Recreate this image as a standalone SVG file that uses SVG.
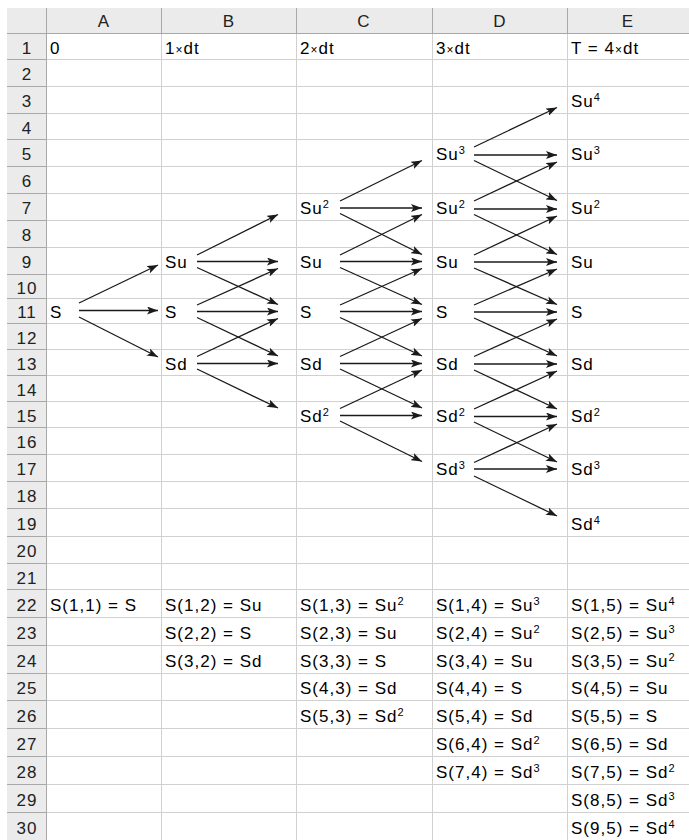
<svg xmlns="http://www.w3.org/2000/svg" width="689" height="840" viewBox="0 0 689 840">
<style>
text{font-family:"Liberation Sans",Arial,sans-serif;font-size:17px;fill:#000;letter-spacing:1px}
.hd{fill:#222;text-anchor:middle}
.sup{font-size:11px}
.x{font-size:12px}
.grid line{stroke:#d0d0d0;stroke-width:1}
.hdl line{stroke:#a8a8a8;stroke-width:1}
.conn line{stroke:#1a1a1a;stroke-width:1.3;marker-end:url(#ah)}
</style>
<defs>
<marker id="ah" markerUnits="userSpaceOnUse" markerWidth="12" markerHeight="8" refX="11" refY="4" orient="auto">
<path d="M0,0 L11,4 L0,8 L2.5,4 z" fill="#1a1a1a"/>
</marker>
</defs>
<rect x="0" y="0" width="689" height="840" fill="#fff"/>
<!-- header backgrounds -->
<rect x="7" y="8" width="682" height="25" fill="#ebebeb"/>
<rect x="7" y="8" width="39" height="832" fill="#ebebeb"/>
<!-- cell grid -->
<g class="grid">
<line x1="46" y1="59.5" x2="689" y2="59.5"/><line x1="46" y1="86.5" x2="689" y2="86.5"/><line x1="46" y1="113.5" x2="689" y2="113.5"/><line x1="46" y1="139.5" x2="689" y2="139.5"/><line x1="46" y1="166.5" x2="689" y2="166.5"/><line x1="46" y1="193.5" x2="689" y2="193.5"/><line x1="46" y1="220.5" x2="689" y2="220.5"/><line x1="46" y1="247.5" x2="689" y2="247.5"/><line x1="46" y1="274.5" x2="689" y2="274.5"/><line x1="46" y1="298.5" x2="689" y2="298.5"/><line x1="46" y1="323.5" x2="689" y2="323.5"/><line x1="46" y1="349.5" x2="689" y2="349.5"/><line x1="46" y1="375.5" x2="689" y2="375.5"/><line x1="46" y1="401.5" x2="689" y2="401.5"/><line x1="46" y1="427.5" x2="689" y2="427.5"/><line x1="46" y1="454.5" x2="689" y2="454.5"/><line x1="46" y1="481.5" x2="689" y2="481.5"/><line x1="46" y1="508.5" x2="689" y2="508.5"/><line x1="46" y1="536.5" x2="689" y2="536.5"/><line x1="46" y1="563.5" x2="689" y2="563.5"/><line x1="46" y1="589.5" x2="689" y2="589.5"/><line x1="46" y1="617.5" x2="689" y2="617.5"/><line x1="46" y1="645.5" x2="689" y2="645.5"/><line x1="46" y1="673.5" x2="689" y2="673.5"/><line x1="46" y1="700.5" x2="689" y2="700.5"/><line x1="46" y1="728.5" x2="689" y2="728.5"/><line x1="46" y1="756.5" x2="689" y2="756.5"/><line x1="46" y1="784.5" x2="689" y2="784.5"/><line x1="46" y1="812.5" x2="689" y2="812.5"/>
<line x1="161.5" y1="33" x2="161.5" y2="840"/><line x1="296.5" y1="33" x2="296.5" y2="840"/><line x1="432.5" y1="33" x2="432.5" y2="840"/><line x1="567.5" y1="33" x2="567.5" y2="840"/>
</g>
<!-- header lines -->
<g class="hdl">
<line x1="7" y1="33.5" x2="689" y2="33.5"/>
<line x1="46.5" y1="8" x2="46.5" y2="840"/>
<line x1="161.5" y1="8" x2="161.5" y2="33"/><line x1="296.5" y1="8" x2="296.5" y2="33"/><line x1="432.5" y1="8" x2="432.5" y2="33"/><line x1="567.5" y1="8" x2="567.5" y2="33"/>
<line x1="7" y1="59.5" x2="46" y2="59.5"/><line x1="7" y1="86.5" x2="46" y2="86.5"/><line x1="7" y1="113.5" x2="46" y2="113.5"/><line x1="7" y1="139.5" x2="46" y2="139.5"/><line x1="7" y1="166.5" x2="46" y2="166.5"/><line x1="7" y1="193.5" x2="46" y2="193.5"/><line x1="7" y1="220.5" x2="46" y2="220.5"/><line x1="7" y1="247.5" x2="46" y2="247.5"/><line x1="7" y1="274.5" x2="46" y2="274.5"/><line x1="7" y1="298.5" x2="46" y2="298.5"/><line x1="7" y1="323.5" x2="46" y2="323.5"/><line x1="7" y1="349.5" x2="46" y2="349.5"/><line x1="7" y1="375.5" x2="46" y2="375.5"/><line x1="7" y1="401.5" x2="46" y2="401.5"/><line x1="7" y1="427.5" x2="46" y2="427.5"/><line x1="7" y1="454.5" x2="46" y2="454.5"/><line x1="7" y1="481.5" x2="46" y2="481.5"/><line x1="7" y1="508.5" x2="46" y2="508.5"/><line x1="7" y1="536.5" x2="46" y2="536.5"/><line x1="7" y1="563.5" x2="46" y2="563.5"/><line x1="7" y1="589.5" x2="46" y2="589.5"/><line x1="7" y1="617.5" x2="46" y2="617.5"/><line x1="7" y1="645.5" x2="46" y2="645.5"/><line x1="7" y1="673.5" x2="46" y2="673.5"/><line x1="7" y1="700.5" x2="46" y2="700.5"/><line x1="7" y1="728.5" x2="46" y2="728.5"/><line x1="7" y1="756.5" x2="46" y2="756.5"/><line x1="7" y1="784.5" x2="46" y2="784.5"/><line x1="7" y1="812.5" x2="46" y2="812.5"/>
</g>
<!-- header labels -->
<g id="col-headers">
<text class="hd" x="104" y="27">A</text><text class="hd" x="229" y="27">B</text><text class="hd" x="364" y="27">C</text><text class="hd" x="500" y="27">D</text><text class="hd" x="628" y="27">E</text>
</g>
<g id="row-headers">
<text class="hd" x="27" y="53.5">1</text><text class="hd" x="27" y="80">2</text><text class="hd" x="27" y="107">3</text><text class="hd" x="27" y="133.5">4</text><text class="hd" x="27" y="160">5</text><text class="hd" x="27" y="187">6</text><text class="hd" x="27" y="214">7</text><text class="hd" x="27" y="241">8</text><text class="hd" x="27" y="268">9</text><text class="hd" x="27" y="293.5">10</text><text class="hd" x="27" y="318">11</text><text class="hd" x="27" y="343.5">12</text><text class="hd" x="27" y="369.5">13</text><text class="hd" x="27" y="395.5">14</text><text class="hd" x="27" y="421.5">15</text><text class="hd" x="27" y="448">16</text><text class="hd" x="27" y="475">17</text><text class="hd" x="27" y="502">18</text><text class="hd" x="27" y="529.5">19</text><text class="hd" x="27" y="557">20</text><text class="hd" x="27" y="583.5">21</text><text class="hd" x="27" y="610.5">22</text><text class="hd" x="27" y="638.5">23</text><text class="hd" x="27" y="666.5">24</text><text class="hd" x="27" y="694">25</text><text class="hd" x="27" y="721.5">26</text><text class="hd" x="27" y="749.5">27</text><text class="hd" x="27" y="777.5">28</text><text class="hd" x="27" y="805.5">29</text><text class="hd" x="27" y="833.5">30</text>
</g>
<!-- time row -->
<g id="time-labels">
<text x="50" y="53.5">0</text>
<text x="165" y="53.5">1<tspan class="x">×</tspan>dt</text>
<text x="300" y="53.5">2<tspan class="x">×</tspan>dt</text>
<text x="436" y="53.5">3<tspan class="x">×</tspan>dt</text>
<text x="571" y="53.5">T = 4<tspan class="x">×</tspan>dt</text>
</g>
<!-- connectors -->
<g id="connectors" class="conn">
<line x1="79" y1="303" x2="158" y2="265"/><line x1="79" y1="310.5" x2="158" y2="310.5"/><line x1="79" y1="317" x2="158" y2="357"/>
<line x1="197" y1="255" x2="278" y2="214.5"/><line x1="197" y1="261.5" x2="278" y2="261.5"/><line x1="197" y1="267.5" x2="278" y2="304.5"/>
<line x1="197" y1="305" x2="278" y2="268.5"/><line x1="197" y1="311.5" x2="278" y2="311.5"/><line x1="197" y1="317.5" x2="278" y2="356"/>
<line x1="197" y1="356.5" x2="278" y2="318.5"/><line x1="197" y1="363.5" x2="278" y2="363.5"/><line x1="197" y1="369" x2="278" y2="408"/>
<line x1="340" y1="201" x2="422" y2="160.5"/><line x1="340" y1="208" x2="422" y2="208"/><line x1="340" y1="213.5" x2="422" y2="254.5"/>
<line x1="340" y1="255" x2="422" y2="214.5"/><line x1="340" y1="261.5" x2="422" y2="261.5"/><line x1="340" y1="267.5" x2="422" y2="304.5"/>
<line x1="340" y1="305" x2="422" y2="268.5"/><line x1="340" y1="311.5" x2="422" y2="311.5"/><line x1="340" y1="317.5" x2="422" y2="356"/>
<line x1="340" y1="356.5" x2="422" y2="318.5"/><line x1="340" y1="363.5" x2="422" y2="363.5"/><line x1="340" y1="369" x2="422" y2="408"/>
<line x1="340" y1="408.5" x2="422" y2="370"/><line x1="340" y1="415.5" x2="422" y2="415.5"/><line x1="340" y1="421" x2="422" y2="461.5"/>
<line x1="474" y1="147" x2="557" y2="107.5"/><line x1="474" y1="155" x2="557" y2="155"/><line x1="474" y1="160.5" x2="557" y2="200.5"/>
<line x1="474" y1="201" x2="557" y2="162"/><line x1="474" y1="209" x2="557" y2="209"/><line x1="474" y1="214.5" x2="557" y2="254.5"/>
<line x1="474" y1="255" x2="557" y2="216"/><line x1="474" y1="262" x2="557" y2="262"/><line x1="474" y1="268" x2="557" y2="304.5"/>
<line x1="474" y1="305" x2="557" y2="269"/><line x1="474" y1="312" x2="557" y2="312"/><line x1="474" y1="318" x2="557" y2="356"/>
<line x1="474" y1="356.5" x2="557" y2="319"/><line x1="474" y1="364" x2="557" y2="364"/><line x1="474" y1="370" x2="557" y2="409"/>
<line x1="474" y1="409" x2="557" y2="371"/><line x1="474" y1="416.5" x2="557" y2="416.5"/><line x1="474" y1="422" x2="557" y2="462"/>
<line x1="474" y1="462.5" x2="557" y2="424"/><line x1="474" y1="469" x2="557" y2="469"/><line x1="474" y1="476" x2="557" y2="516"/>
</g>
<!-- tree nodes -->
<g id="nA11"><text x="50" y="318">S</text></g>
<g id="nB9"><text x="165" y="268">Su</text></g>
<g id="nB11"><text x="165" y="318">S</text></g>
<g id="nB13"><text x="165" y="369.5">Sd</text></g>
<g id="nC7"><text x="300" y="214">Su<tspan class="sup" dy="-6">2</tspan></text></g>
<g id="nC9"><text x="300" y="268">Su</text></g>
<g id="nC11"><text x="300" y="318">S</text></g>
<g id="nC13"><text x="300" y="369.5">Sd</text></g>
<g id="nC15"><text x="300" y="421.5">Sd<tspan class="sup" dy="-6">2</tspan></text></g>
<g id="nD5"><text x="436" y="160">Su<tspan class="sup" dy="-6">3</tspan></text></g>
<g id="nD7"><text x="436" y="214">Su<tspan class="sup" dy="-6">2</tspan></text></g>
<g id="nD9"><text x="436" y="268">Su</text></g>
<g id="nD11"><text x="436" y="318">S</text></g>
<g id="nD13"><text x="436" y="369.5">Sd</text></g>
<g id="nD15"><text x="436" y="421.5">Sd<tspan class="sup" dy="-6">2</tspan></text></g>
<g id="nD17"><text x="436" y="475">Sd<tspan class="sup" dy="-6">3</tspan></text></g>
<g id="nE3"><text x="571" y="107">Su<tspan class="sup" dy="-6">4</tspan></text></g>
<g id="nE5"><text x="571" y="160">Su<tspan class="sup" dy="-6">3</tspan></text></g>
<g id="nE7"><text x="571" y="214">Su<tspan class="sup" dy="-6">2</tspan></text></g>
<g id="nE9"><text x="571" y="268">Su</text></g>
<g id="nE11"><text x="571" y="318">S</text></g>
<g id="nE13"><text x="571" y="369.5">Sd</text></g>
<g id="nE15"><text x="571" y="421.5">Sd<tspan class="sup" dy="-6">2</tspan></text></g>
<g id="nE17"><text x="571" y="475">Sd<tspan class="sup" dy="-6">3</tspan></text></g>
<g id="nE19"><text x="571" y="529.5">Sd<tspan class="sup" dy="-6">4</tspan></text></g>
<!-- index table -->
<g id="table">
<text x="50" y="610.5">S(1,1) = S</text>
<text x="165" y="610.5">S(1,2) = Su</text>
<text x="165" y="638.5">S(2,2) = S</text>
<text x="165" y="666.5">S(3,2) = Sd</text>
<text x="300" y="610.5">S(1,3) = Su<tspan class="sup" dy="-6">2</tspan></text>
<text x="300" y="638.5">S(2,3) = Su</text>
<text x="300" y="666.5">S(3,3) = S</text>
<text x="300" y="694">S(4,3) = Sd</text>
<text x="300" y="721.5">S(5,3) = Sd<tspan class="sup" dy="-6">2</tspan></text>
<text x="436" y="610.5">S(1,4) = Su<tspan class="sup" dy="-6">3</tspan></text>
<text x="436" y="638.5">S(2,4) = Su<tspan class="sup" dy="-6">2</tspan></text>
<text x="436" y="666.5">S(3,4) = Su</text>
<text x="436" y="694">S(4,4) = S</text>
<text x="436" y="721.5">S(5,4) = Sd</text>
<text x="436" y="749.5">S(6,4) = Sd<tspan class="sup" dy="-6">2</tspan></text>
<text x="436" y="777.5">S(7,4) = Sd<tspan class="sup" dy="-6">3</tspan></text>
<text x="571" y="610.5">S(1,5) = Su<tspan class="sup" dy="-6">4</tspan></text>
<text x="571" y="638.5">S(2,5) = Su<tspan class="sup" dy="-6">3</tspan></text>
<text x="571" y="666.5">S(3,5) = Su<tspan class="sup" dy="-6">2</tspan></text>
<text x="571" y="694">S(4,5) = Su</text>
<text x="571" y="721.5">S(5,5) = S</text>
<text x="571" y="749.5">S(6,5) = Sd</text>
<text x="571" y="777.5">S(7,5) = Sd<tspan class="sup" dy="-6">2</tspan></text>
<text x="571" y="805.5">S(8,5) = Sd<tspan class="sup" dy="-6">3</tspan></text>
<text x="571" y="833.5">S(9,5) = Sd<tspan class="sup" dy="-6">4</tspan></text>
</g>
</svg>
